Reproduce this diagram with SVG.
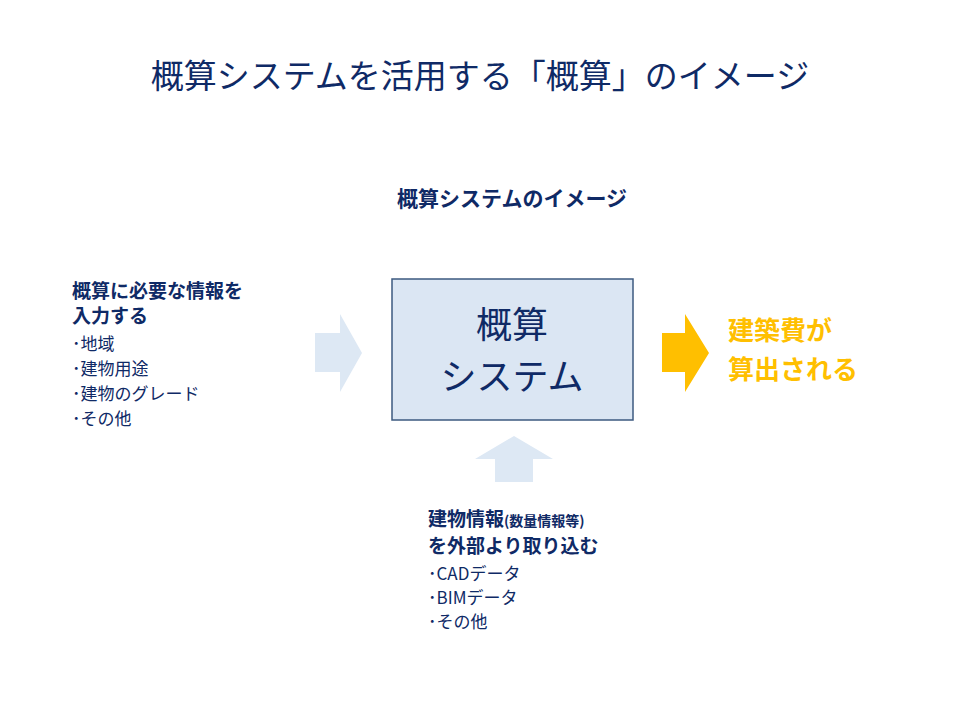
<svg xmlns="http://www.w3.org/2000/svg" width="960" height="720" viewBox="0 0 960 720">
<style>
text{font-family:"Noto Sans CJK JP","Noto Sans",sans-serif;fill:#0f2a66}
.b{font-weight:bold}
.s{font-size:17px}
.m{font-size:19px}
</style>
<rect width="960" height="720" fill="#fff"/>
<text x="480" y="88" text-anchor="middle" font-size="33">概算システムを活用する「概算」のイメージ</text>
<text x="512" y="206" text-anchor="middle" font-size="21" class="b">概算システムのイメージ</text>
<g id="connectors">
<polygon points="315,333 340,333 340,314 362,353 340,392 340,372 315,372" fill="#dde8f4"/>
<polygon points="662,333 685,333 685,314 709,353 685,392 685,372 662,372" fill="#ffbf00"/>
<polygon points="495,482 495,459 475,459 514,436 553,459 533,459 533,482" fill="#dde8f4"/>
</g>
<g id="system">
<rect x="392" y="279" width="241" height="141" fill="#dbe6f3" stroke="#3d5a80" stroke-width="1.5"/>
<text x="512" y="338" text-anchor="middle" font-size="36">概算</text>
<text x="512" y="390" text-anchor="middle" font-size="36">システム</text>
</g>
<g id="input">
<text x="72" y="298" class="b m">概算に必要な情報を</text>
<text x="72" y="323" class="b m">入力する</text>
<text x="72" y="350" class="s">･地域</text>
<text x="72" y="375" class="s">･建物用途</text>
<text x="72" y="400" class="s">･建物のグレード</text>
<text x="72" y="425" class="s">･その他</text>
</g>
<g id="output">
<text x="728" y="340" font-size="26" class="b" style="fill:#ffbf00">建築費が</text>
<text x="728" y="379" font-size="26" class="b" style="fill:#ffbf00">算出される</text>
</g>
<g id="external">
<text x="428" y="526" class="b m">建物情報<tspan font-size="14">(数量情報等)</tspan></text>
<text x="428" y="553" class="b m">を外部より取り込む</text>
<text x="428" y="580" class="s">･CADデータ</text>
<text x="428" y="604" class="s">･BIMデータ</text>
<text x="428" y="628" class="s">･その他</text>
</g>
</svg>
